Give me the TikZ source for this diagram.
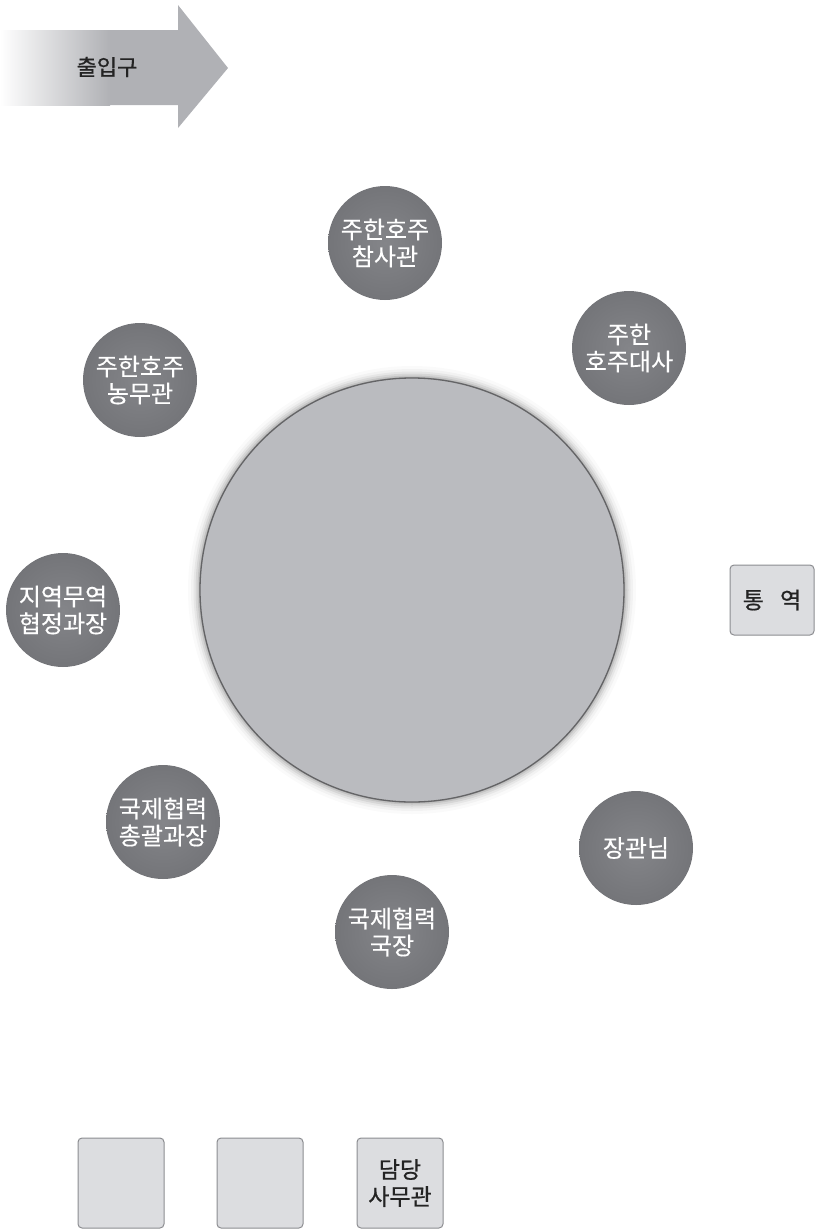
\documentclass[tikz,border=0pt]{standalone}
\usepackage{fontspec}
\setmainfont{Noto Sans CJK KR}
\newfontfamily\medfont{Noto Sans CJK KR}[FakeBold=0.8]
\newfontfamily\semfont{Noto Sans CJK KR}[FakeBold=0.4]
\usetikzlibrary{shadings}
\definecolor{seatgray}{RGB}{132,133,137}
\definecolor{seatdark}{RGB}{116,117,121}
\definecolor{tablegray}{RGB}{186,187,191}
\definecolor{tableline}{RGB}{100,100,102}
\definecolor{boxfill}{RGB}{220,221,224}
\definecolor{boxline}{RGB}{140,141,145}
\definecolor{arrowgray}{RGB}{176,177,181}
\definecolor{txtdark}{RGB}{35,35,35}
\tikzset{
  seat/.style={circle, minimum size=114pt, inner sep=0pt, inner color=seatgray, outer color=seatdark,
    text=white, font=\semfont\fontsize{24}{27}\selectfont, align=center},
  desk/.style={rectangle, rounded corners=4pt, fill=boxfill, draw=boxline, line width=1pt,
    text=txtdark, font=\medfont\fontsize{23}{27}\selectfont, align=center, inner sep=0pt},
}
\begin{document}
\begin{tikzpicture}[x=1pt,y=-1pt]
\useasboundingbox (0,0) rectangle (814,1229);
% entrance arrow
\fill[arrowgray] (0,30) -- (178,30) -- (178,5) -- (228,68) -- (178,128) -- (178,105) -- (0,105) -- cycle;
\shade[left color=white, right color=arrowgray] (0,30) rectangle (110,105);
\node[text=txtdark, font=\medfont\fontsize{22}{26}\selectfont] (entrance) at (107,67) {출입구};
% table with soft glow
\foreach \r/\o in {224/0.02,221/0.03,218.5/0.05,216.5/0.07,214.5/0.09,213/0.12}{
  \fill[black, opacity=\o] (412,590) circle (\r);
}
\node[circle, minimum size=424pt, inner sep=0pt, fill=tablegray, draw=tableline, line width=1.3pt] (table) at (412,590) {};
% seats
\node[seat] (s1) at (385,243) {주한호주\\참사관};
\node[seat] (s2) at (629,348) {주한\\호주대사};
\node[seat] (s3) at (140,380) {주한호주\\농무관};
\node[seat] (s4) at (63,610) {지역무역\\협정과장};
\node[seat] (s5) at (163,822) {국제협력\\총괄과장};
\node[seat] (s6) at (392,932) {국제협력\\국장};
\node[seat] (s7) at (636,848) {장관님};
% interpreter
\node[desk, minimum width=84pt, minimum height=70pt] (interp) at (772,600) {통\hspace{0.7em}역};
% bottom desks
\node[desk, minimum width=86pt, minimum height=90pt] (d1) at (121,1183) {};
\node[desk, minimum width=86pt, minimum height=90pt] (d2) at (260,1183) {};
\node[desk, minimum width=86pt, minimum height=90pt] (d3) at (400,1183) {담당\\사무관};
\end{tikzpicture}
\end{document}
